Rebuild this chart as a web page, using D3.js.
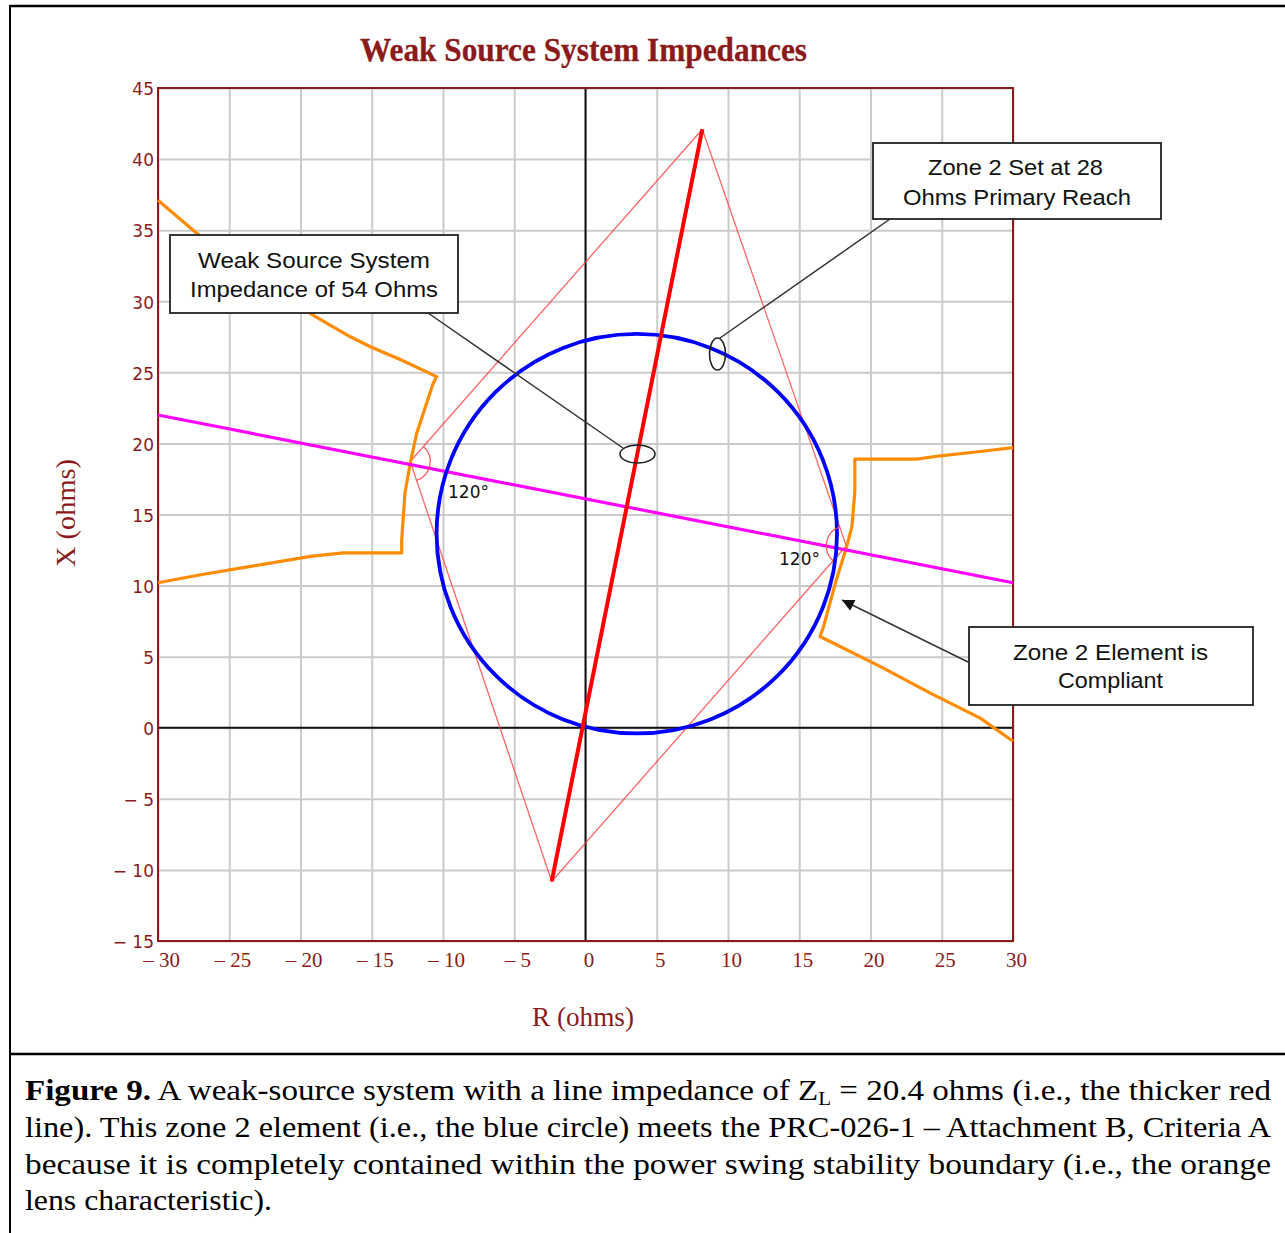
<!DOCTYPE html>
<html><head><meta charset="utf-8">
<script src="https://cdn.jsdelivr.net/npm/d3@7"></script>
<style>body{margin:0;background:#fff}svg{display:block}</style>
</head><body>
<svg id="chart" width="1285" height="1233"></svg>
<script>
// ---------- data ----------
const title = "Weak Source System Impedances";
const xLabel = "R (ohms)";
const yLabel = "X (ohms)";
const xTicks = [-30,-25,-20,-15,-10,-5,0,5,10,15,20,25,30];
const xTickLabels = ["\u2013 30","\u2013 25","\u2013 20","\u2013 15","\u2013 10","\u2013 5","0","5","10","15","20","25","30"];
const yTicks = [-15,-10,-5,0,5,10,15,20,25,30,35,40,45];
const yTickLabels = ["\u2212 15","\u2212 10","\u2212 5","0","5","10","15","20","25","30","35","40","45"];

const orangeLeft = [[-30,37.1],[-27.3,34.8],[-25,33.1],[-22,30.9],[-19.1,29.0],[-16.5,27.5],[-15.1,26.8],[-13.0,25.9],[-10.45,24.7],[-10.7,24.2],[-11.85,20.7],[-12.3,18.6],[-12.67,16.5],[-12.9,13.2],[-12.9,12.3],[-17.0,12.3],[-19.3,12.05],[-23.5,11.35],[-27.0,10.76],[-30,10.2]];
const orangeRight = [[30,19.7],[27.7,19.43],[24.9,19.13],[23.25,18.9],[18.9,18.9],[18.9,16.6],[18.7,14.16],[18.3,12.64],[17.6,10.4],[16.7,7.1],[16.46,6.42],[20.7,4.3],[24.2,2.44],[27.7,0.68],[30,-0.95]];
const magentaLine = [[-30,22.0],[30,10.2]];
const systemLine = [[-2.37,-10.81],[8.2,42.1]];
const lensQuad = [[8.2,42.1],[18.3,12.8],[-2.37,-10.81],[-12.3,18.73],[8.2,42.1]];
const zoneCircle = {cx:3.6, cy:13.65, r:14.05};
const angleVertices = [{v:[-12.3,18.73], a:[8.2,42.1], b:[-2.37,-10.81], label:"120\u00b0"},
                       {v:[18.3,12.8], a:[-2.37,-10.81], b:[8.2,42.1], label:"120\u00b0"}];
const calloutBoxes = [
  {lines:["Weak Source System","Impedance of 54 Ohms"]},
  {lines:["Zone 2 Set at 28","Ohms Primary Reach"]},
  {lines:["Zone 2 Element is","Compliant"]}
];
const captionLines = [
  "A weak-source system with a line impedance of Z",
  "line). This zone 2 element (i.e., the blue circle) meets the PRC-026-1 \u2013 Attachment B, Criteria A",
  "because it is completely contained within the power swing stability boundary (i.e., the orange",
  "lens characteristic)."
];

// ---------- layout ----------
const svg = d3.select("#chart");
const L = 158, R = 1013, T = 88, B = 941;
const x = d3.scaleLinear().domain([-30,30]).range([L,R]);
const y = d3.scaleLinear().domain([-15,45]).range([B,T]);
const dark = "#8b1a1a";

// frame of figure
svg.append("line").attr("x1",10).attr("x2",1285).attr("y1",6).attr("y2",6).attr("stroke","#000").attr("stroke-width",2.5);
svg.append("line").attr("x1",10).attr("x2",10).attr("y1",5).attr("y2",1233).attr("stroke","#000").attr("stroke-width",2);
svg.append("line").attr("x1",10).attr("x2",1285).attr("y1",1054).attr("y2",1054).attr("stroke","#000").attr("stroke-width",2.5);

// title
svg.append("text").attr("x",360).attr("y",61).attr("textLength",447).attr("lengthAdjust","spacingAndGlyphs")
  .attr("font-family","Liberation Serif, serif").attr("font-size",34).attr("font-weight",600)
  .attr("stroke",dark).attr("stroke-width",0.3).attr("fill",dark).text(title);

// grid
const gx = svg.append("g").attr("transform",`translate(0,${B})`)
  .call(d3.axisBottom(x).tickValues(xTicks).tickSize(-(B-T)).tickFormat(""));
gx.select(".domain").remove();
gx.selectAll("line").attr("stroke","#cbcbcb").attr("stroke-width",2);
const gy = svg.append("g").attr("transform",`translate(${L},0)`)
  .call(d3.axisLeft(y).tickValues(yTicks).tickSize(-(R-L)).tickFormat(""));
gy.select(".domain").remove();
gy.selectAll("line").attr("stroke","#cbcbcb").attr("stroke-width",2);

// zero axes
svg.append("line").attr("x1",x(0)).attr("x2",x(0)).attr("y1",T).attr("y2",B).attr("stroke","#111").attr("stroke-width",2);
svg.append("line").attr("x1",L).attr("x2",R).attr("y1",y(0)).attr("y2",y(0)).attr("stroke","#111").attr("stroke-width",2);

// plot frame
svg.append("rect").attr("x",L).attr("y",T).attr("width",R-L).attr("height",B-T)
  .attr("fill","none").attr("stroke",dark).attr("stroke-width",2);

// tick labels
const ax = svg.append("g").attr("transform",`translate(0,${B})`)
  .call(d3.axisBottom(x).tickValues(xTicks).tickSize(0).tickPadding(11).tickFormat((d,i)=>xTickLabels[i]));
ax.select(".domain").remove();
ax.selectAll("text").attr("font-family","Liberation Serif, serif").attr("font-size",21).attr("fill",dark).attr("dx",3);
const ay = svg.append("g").attr("transform",`translate(${L},0)`)
  .call(d3.axisLeft(y).tickValues(yTicks).tickSize(0).tickPadding(4).tickFormat((d,i)=>yTickLabels[i]));
ay.select(".domain").remove();
ay.selectAll("text").attr("font-family","DejaVu Sans, sans-serif").attr("font-size",17).attr("fill",dark).attr("dy","0.4em");

// axis titles
svg.append("text").attr("x",583).attr("y",1026).attr("text-anchor","middle").attr("textLength",102).attr("lengthAdjust","spacingAndGlyphs")
  .attr("font-family","Liberation Serif, serif").attr("font-size",27).attr("fill",dark).text(xLabel);
svg.append("text").attr("transform","translate(75,513) rotate(-90)").attr("text-anchor","middle").attr("textLength",108).attr("lengthAdjust","spacingAndGlyphs")
  .attr("font-family","Liberation Serif, serif").attr("font-size",27).attr("fill",dark).text(yLabel);

// series
const line = d3.line().x(d=>x(d[0])).y(d=>y(d[1]));
const plot = svg.append("g");
plot.append("path").datum(lensQuad).attr("d",line).attr("fill","none").attr("stroke","#ff4040").attr("stroke-opacity",0.8).attr("stroke-width",1.3);
plot.append("path").datum(orangeLeft).attr("d",line).attr("fill","none").attr("stroke","#ff8c00").attr("stroke-width",3.2).attr("stroke-linejoin","round");
plot.append("path").datum(orangeRight).attr("d",line).attr("fill","none").attr("stroke","#ff8c00").attr("stroke-width",3.2).attr("stroke-linejoin","round");
plot.append("path").datum(magentaLine).attr("d",line).attr("fill","none").attr("stroke","#ff00ff").attr("stroke-width",3.2);
plot.append("ellipse").attr("cx",x(zoneCircle.cx)).attr("cy",y(zoneCircle.cy))
  .attr("rx",x(zoneCircle.r)-x(0)).attr("ry",y(0)-y(zoneCircle.r))
  .attr("fill","none").attr("stroke","#0000ff").attr("stroke-width",3.8);
plot.append("path").datum(systemLine).attr("d",line).attr("fill","none").attr("stroke","#ff0000").attr("stroke-width",4);

// angle arcs
angleVertices.forEach(o=>{
  const vx=x(o.v[0]), vy=y(o.v[1]), r=20;
  const a1=Math.atan2(y(o.a[1])-vy, x(o.a[0])-vx);
  const a2=Math.atan2(y(o.b[1])-vy, x(o.b[0])-vx);
  const p1=[vx+r*Math.cos(a1), vy+r*Math.sin(a1)], p2=[vx+r*Math.cos(a2), vy+r*Math.sin(a2)];
  plot.append("path").attr("d",`M${p1[0]},${p1[1]} A${r},${r} 0 0 1 ${p2[0]},${p2[1]}`)
    .attr("fill","none").attr("stroke","#ff4040").attr("stroke-opacity",0.85).attr("stroke-width",1.3);
});
svg.append("text").attr("x",448).attr("y",498).attr("font-family","DejaVu Sans, sans-serif").attr("font-size",17).attr("fill","#111").text(angleVertices[0].label);
svg.append("text").attr("x",779).attr("y",565).attr("font-family","DejaVu Sans, sans-serif").attr("font-size",17).attr("fill","#111").text(angleVertices[1].label);

// callouts
const ink="#222";
svg.append("line").attr("x1",428).attr("y1",313).attr("x2",623).attr("y2",448).attr("stroke","#333").attr("stroke-width",1.5);
svg.append("ellipse").attr("cx",637.5).attr("cy",454).attr("rx",17.5).attr("ry",9).attr("fill","none").attr("stroke",ink).attr("stroke-width",1.6);
svg.append("line").attr("x1",890).attr("y1",219).attr("x2",720).attr("y2",338).attr("stroke","#333").attr("stroke-width",1.5);
svg.append("ellipse").attr("cx",717.5).attr("cy",354).attr("rx",8).attr("ry",16).attr("fill","none").attr("stroke",ink).attr("stroke-width",1.6);
svg.append("defs").append("marker").attr("id","ah").attr("viewBox","0 0 10 10").attr("refX",10).attr("refY",5)
  .attr("markerWidth",16).attr("markerHeight",12).attr("markerUnits","userSpaceOnUse").attr("orient","auto")
  .append("path").attr("d","M0,0L10,5L0,10Z").attr("fill","#111");
svg.append("line").attr("x1",968).attr("y1",662).attr("x2",842).attr("y2",600).attr("stroke","#333").attr("stroke-width",1.5).attr("marker-end","url(#ah)");

const boxes = [
  {x:170,y:235,w:288,h:78, t:[{x:198,y:268,w:232},{x:190,y:297,w:248}]},
  {x:873,y:143,w:288,h:76, t:[{x:928,y:175,w:175},{x:903,y:205,w:228}]},
  {x:969,y:627,w:284,h:78, t:[{x:1013,y:660,w:195},{x:1058,y:688,w:105}]}
];
boxes.forEach((b,i)=>{
  svg.append("rect").attr("x",b.x).attr("y",b.y).attr("width",b.w).attr("height",b.h)
    .attr("fill","#fff").attr("stroke",ink).attr("stroke-width",1.8);
  b.t.forEach((t,j)=>{
    svg.append("text").attr("x",t.x).attr("y",t.y).attr("textLength",t.w).attr("lengthAdjust","spacingAndGlyphs")
      .attr("font-family","Liberation Sans, Arial, sans-serif").attr("font-size",22).attr("fill","#111").text(calloutBoxes[i].lines[j]);
  });
});

// caption
const capFont = "Liberation Serif, 'Times New Roman', serif";
const capSize = 30;
const c1 = svg.append("text").attr("x",25).attr("y",1100).attr("textLength",1246).attr("lengthAdjust","spacingAndGlyphs")
  .attr("font-family",capFont).attr("font-size",capSize).attr("fill","#000");
c1.append("tspan").attr("font-weight","bold").text("Figure 9.");
c1.append("tspan").text(" " + captionLines[0]);
c1.append("tspan").attr("font-size",19).attr("dy",5).text("L");
c1.append("tspan").attr("dy",-5).text(" = 20.4 ohms (i.e., the thicker red");
[1,2].forEach((k,i)=>{
  svg.append("text").attr("x",25).attr("y",1137+i*36.5).attr("textLength",1246).attr("lengthAdjust","spacingAndGlyphs")
    .attr("font-family",capFont).attr("font-size",capSize).attr("fill","#000").text(captionLines[k]);
});
svg.append("text").attr("x",25).attr("y",1210).attr("textLength",247).attr("lengthAdjust","spacingAndGlyphs")
  .attr("font-family",capFont).attr("font-size",capSize).attr("fill","#000").text(captionLines[3]);
</script>
</body></html>
